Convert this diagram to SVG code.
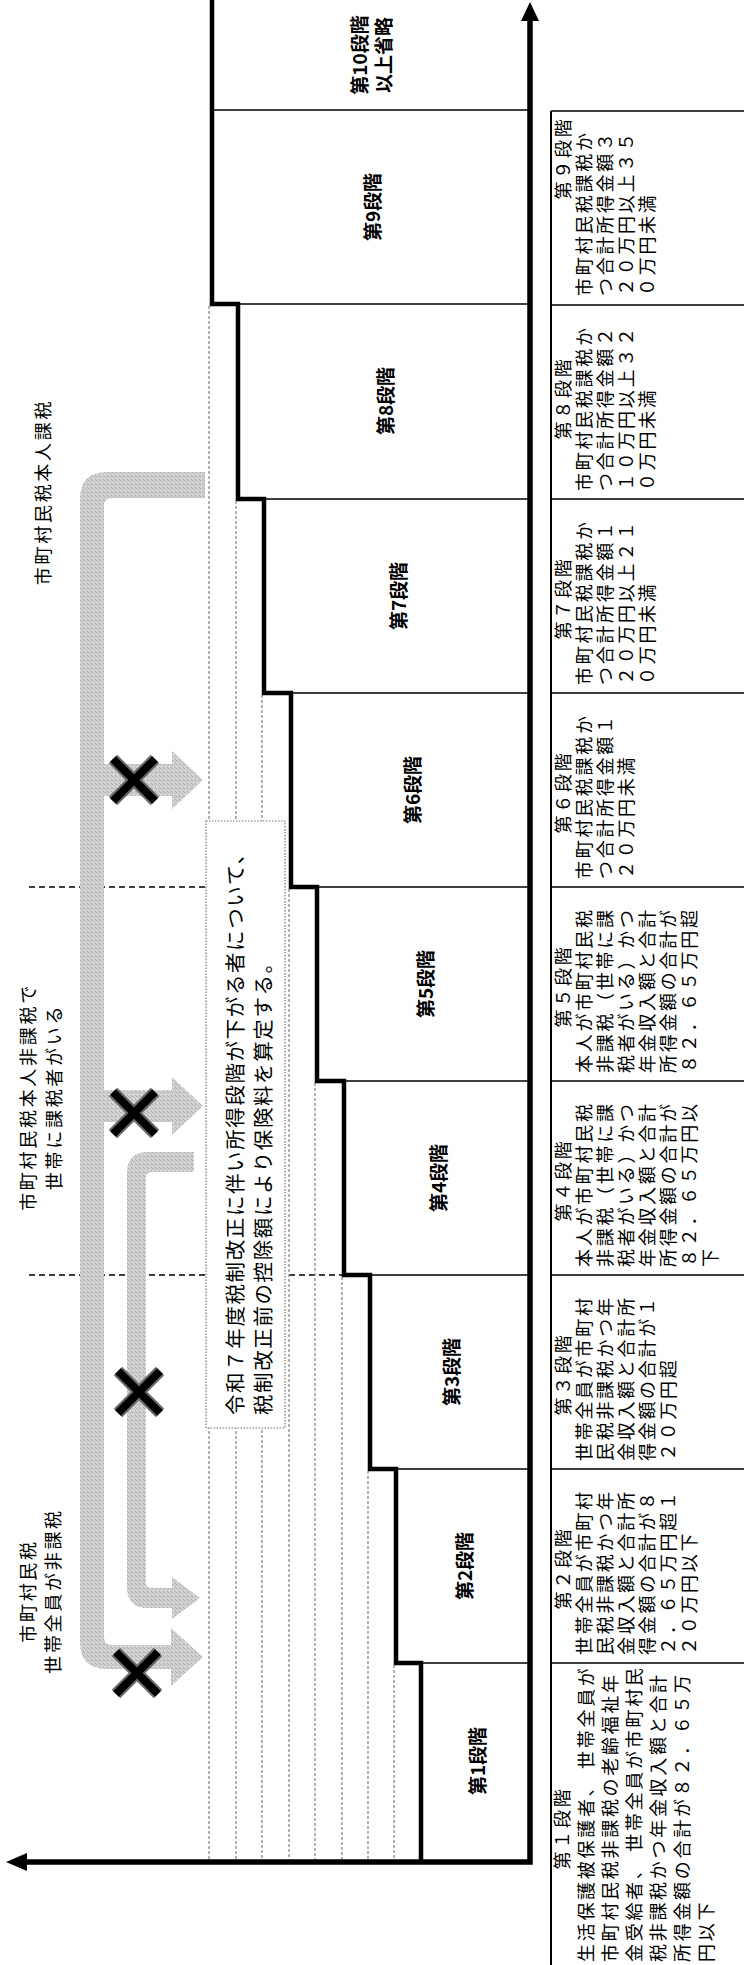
<svg xmlns="http://www.w3.org/2000/svg" xmlns:xlink="http://www.w3.org/1999/xlink" width="744" height="1965" viewBox="0 0 744 1965">
<style>
text{font-family:"Noto Sans CJK JP","Noto Sans CJK SC",sans-serif;fill:#000;dominant-baseline:central}
.step{font-size:19px;font-weight:bold;text-anchor:middle}
.tb{font-size:18px;letter-spacing:2.7px}
.hd{text-anchor:middle}
.cap{font-size:18px;letter-spacing:2.7px;text-anchor:middle}
.note{font-size:20.5px;letter-spacing:1.6px}
.thin{stroke:#000;stroke-width:1.6;fill:none}
.dot{stroke:#8a8a8a;stroke-width:1.3;stroke-dasharray:3 2;fill:none}
.dash{stroke:#000;stroke-width:1.6;stroke-dasharray:6 4;fill:none}
.gray{fill:url(#stip)}
.heavy{stroke:#000;stroke-width:4.5;fill:none;stroke-linejoin:miter}
</style>
<defs>
<pattern id="stip" width="4" height="4" patternUnits="userSpaceOnUse">
<rect width="4" height="4" fill="#d0d0d0"/>
<rect x="0" y="0" width="1" height="1" fill="#a9a9a9"/>
<rect x="2" y="1" width="1" height="1" fill="#b4b4b4"/>
<rect x="1" y="2" width="1" height="1" fill="#e4e4e4"/>
<rect x="3" y="3" width="1" height="1" fill="#acacac"/>
</pattern>
<g id="xm"><path d="M-21,-21L21,21M21,-21L-21,21" stroke="#6a6a6a" stroke-width="12"/><path d="M-21,-21L21,21M21,-21L-21,21" stroke="#000" stroke-width="8"/></g>
</defs>
<rect width="744" height="1965" fill="#fff"/>

<g id="boundaries">
<line class="dash" x1="29" y1="887" x2="291" y2="887"/>
<line class="dash" x1="29" y1="1275" x2="344" y2="1275"/>
</g>

<g id="dotted">
<line class="dot" x1="209" y1="306" x2="209" y2="1859"/>
<line class="dot" x1="236" y1="501" x2="236" y2="1859"/>
<line class="dot" x1="262" y1="695" x2="262" y2="1859"/>
<line class="dot" x1="289" y1="889" x2="289" y2="1859"/>
<line class="dot" x1="315" y1="1083" x2="315" y2="1859"/>
<line class="dot" x1="342" y1="1277" x2="342" y2="1859"/>
<line class="dot" x1="368" y1="1471" x2="368" y2="1859"/>
<line class="dot" x1="394" y1="1665" x2="394" y2="1859"/>
</g>

<g id="connectors">
<path class="gray" d="M205 472H107Q80 472 80 499V1642Q80 1669 107 1669H171V1686L203 1657L171 1628V1645H112Q104 1645 104 1637V506Q104 498 112 498H205Z"/>
<path class="gray" d="M102 764H172V751L203 780L172 809V796H102Z"/>
<path class="gray" d="M102 1090H172V1077L203 1106L172 1135V1122H102Z"/>
<path class="gray" d="M194 1152H148Q127 1152 127 1173V1587Q127 1608 148 1608H172V1619L200 1598L172 1577V1588H152Q146 1588 146 1582V1178Q146 1172 152 1172H194Z"/>
</g>

<g id="xmarks">
<use href="#xm" xlink:href="#xm" x="134" y="780"/>
<use href="#xm" xlink:href="#xm" x="134" y="1113"/>
<use href="#xm" xlink:href="#xm" x="139" y="1392"/>
<use href="#xm" xlink:href="#xm" x="137" y="1673"/>
</g>

<g id="note">
<rect x="206" y="821" width="79" height="607" fill="#fff" stroke="#777" stroke-width="1.2" stroke-dasharray="1.5 1.5"/>
<g transform="rotate(-90)">
<text class="note" x="-1415" y="234">令和７年度税制改正に伴い所得段階が下がる者について、</text>
<text class="note" x="-1415" y="262">税制改正前の控除額により保険料を算定する。</text>
</g>
</g>

<g id="chart">
<line class="thin" x1="212" y1="110" x2="530" y2="110"/>
<line class="thin" x1="238" y1="304" x2="530" y2="304"/>
<line class="thin" x1="264" y1="499" x2="530" y2="499"/>
<line class="thin" x1="291" y1="693" x2="530" y2="693"/>
<line class="thin" x1="317" y1="887" x2="530" y2="887"/>
<line class="thin" x1="344" y1="1081" x2="530" y2="1081"/>
<line class="thin" x1="370" y1="1275" x2="530" y2="1275"/>
<line class="thin" x1="396" y1="1469" x2="530" y2="1469"/>
<line class="thin" x1="421" y1="1663" x2="530" y2="1663"/>
<path class="heavy" d="M212 0V304H238V499H264V693H291V887H317V1081H344V1275H370V1469H396V1663H421V1862"/>
<path d="M530 18V1862H24" stroke="#000" stroke-width="5.5" fill="none"/>
<polygon points="530,2 521,21 539,21" fill="#000"/>
<polygon points="6,1862 27,1853 27,1871" fill="#000"/>
</g>

<g id="stage10"><text class="step" transform="translate(358,55) rotate(-90)">第10段階</text><text class="step" transform="translate(382,55) rotate(-90)">以上省略</text></g>
<g id="stage9"><text class="step" transform="translate(371.5,207) rotate(-90)">第9段階</text></g>
<g id="stage8"><text class="step" transform="translate(384.5,401) rotate(-90)">第8段階</text></g>
<g id="stage7"><text class="step" transform="translate(397.5,596) rotate(-90)">第7段階</text></g>
<g id="stage6"><text class="step" transform="translate(411,790) rotate(-90)">第6段階</text></g>
<g id="stage5"><text class="step" transform="translate(424,984) rotate(-90)">第5段階</text></g>
<g id="stage4"><text class="step" transform="translate(437.5,1178) rotate(-90)">第4段階</text></g>
<g id="stage3"><text class="step" transform="translate(450.5,1372) rotate(-90)">第3段階</text></g>
<g id="stage2"><text class="step" transform="translate(463.5,1566) rotate(-90)">第2段階</text></g>
<g id="stage1"><text class="step" transform="translate(476,1761) rotate(-90)">第1段階</text></g>

<g id="cat-taxed"><text class="cap" transform="translate(42,492) rotate(-90)">市町村民税本人課税</text></g>
<g id="cat-household"><g transform="translate(0,1097)"><text class="cap" transform="translate(27,0) rotate(-90)">市町村民税本人非課税で</text><text class="cap" transform="translate(53,0) rotate(-90)">世帯に課税者がいる</text></g></g>
<g id="cat-exempt"><g transform="translate(0,1591)"><text class="cap" transform="translate(27,0) rotate(-90)">市町村民税</text><text class="cap" transform="translate(52,0) rotate(-90)">世帯全員が非課税</text></g></g>

<g id="table">
<line x1="551" y1="111" x2="551" y2="1965" stroke="#000" stroke-width="2"/>
<g stroke="#000" stroke-width="1.6">
<line x1="551" y1="111" x2="744" y2="111"/>
<line x1="551" y1="305" x2="744" y2="305"/>
<line x1="551" y1="499" x2="744" y2="499"/>
<line x1="551" y1="693" x2="744" y2="693"/>
<line x1="551" y1="887" x2="744" y2="887"/>
<line x1="551" y1="1081" x2="744" y2="1081"/>
<line x1="551" y1="1275" x2="744" y2="1275"/>
<line x1="551" y1="1469" x2="744" y2="1469"/>
<line x1="551" y1="1663" x2="744" y2="1663"/>
</g>
<g transform="rotate(-90)" class="tb">
<g id="cell9">
<text class="hd" x="-158" y="562">第９段階</text>
<text x="-296" y="583">市町村民税課税か</text>
<text x="-296" y="604">つ合計所得金額３</text>
<text x="-296" y="625">２０万円以上３５</text>
<text x="-296" y="646">０万円未満</text>
</g>
<g id="cell8">
<text class="hd" x="-398" y="562">第８段階</text>
<text x="-491" y="583">市町村民税課税か</text>
<text x="-491" y="604">つ合計所得金額２</text>
<text x="-491" y="625">１０万円以上３２</text>
<text x="-491" y="646">０万円未満</text>
</g>
<g id="cell7">
<text class="hd" x="-598" y="562">第７段階</text>
<text x="-685" y="583">市町村民税課税か</text>
<text x="-685" y="604">つ合計所得金額１</text>
<text x="-685" y="625">２０万円以上２１</text>
<text x="-685" y="646">０万円未満</text>
</g>
<g id="cell6">
<text class="hd" x="-792" y="562">第６段階</text>
<text x="-879" y="583">市町村民税課税か</text>
<text x="-879" y="604">つ合計所得金額１</text>
<text x="-879" y="625">２０万円未満</text>
</g>
<g id="cell5">
<text class="hd" x="-986" y="562">第５段階</text>
<text x="-1073" y="583">本人が市町村民税</text>
<text x="-1073" y="604">非課税（世帯に課</text>
<text x="-1073" y="625">税者がいる）かつ</text>
<text x="-1073" y="646">年金収入額と合計</text>
<text x="-1073" y="667">所得金額の合計が</text>
<text x="-1073" y="688">８２．６５万円超</text>
</g>
<g id="cell4">
<text class="hd" x="-1180" y="562">第４段階</text>
<text x="-1267" y="583">本人が市町村民税</text>
<text x="-1267" y="604">非課税（世帯に課</text>
<text x="-1267" y="625">税者がいる）かつ</text>
<text x="-1267" y="646">年金収入額と合計</text>
<text x="-1267" y="667">所得金額の合計が</text>
<text x="-1267" y="688">８２．６５万円以</text>
<text x="-1267" y="709">下</text>
</g>
<g id="cell3">
<text class="hd" x="-1374" y="562">第３段階</text>
<text x="-1461" y="583">世帯全員が市町村</text>
<text x="-1461" y="604">民税非課税かつ年</text>
<text x="-1461" y="625">金収入額と合計所</text>
<text x="-1461" y="646">得金額の合計が１</text>
<text x="-1461" y="667">２０万円超</text>
</g>
<g id="cell2">
<text class="hd" x="-1568" y="562">第２段階</text>
<text x="-1655" y="583">世帯全員が市町村</text>
<text x="-1655" y="604">民税非課税かつ年</text>
<text x="-1655" y="625">金収入額と合計所</text>
<text x="-1655" y="646">得金額の合計が８</text>
<text x="-1655" y="667">２．６５万円超１</text>
<text x="-1655" y="688">２０万円以下</text>
</g>
<g id="cell1">
<text class="hd" x="-1828" y="561">第１段階</text>
<text x="-1962" y="585">生活保護被保護者、 世帯全員が</text>
<text x="-1962" y="609">市町村民税非課税の老齢福祉年</text>
<text x="-1962" y="633">金受給者、 世帯全員が市町村民</text>
<text x="-1962" y="657">税非課税かつ年金収入額と合計</text>
<text x="-1962" y="681">所得金額の合計が８２．６５万</text>
<text x="-1962" y="705">円以下</text>
</g>
</g>
</g>
</svg>
